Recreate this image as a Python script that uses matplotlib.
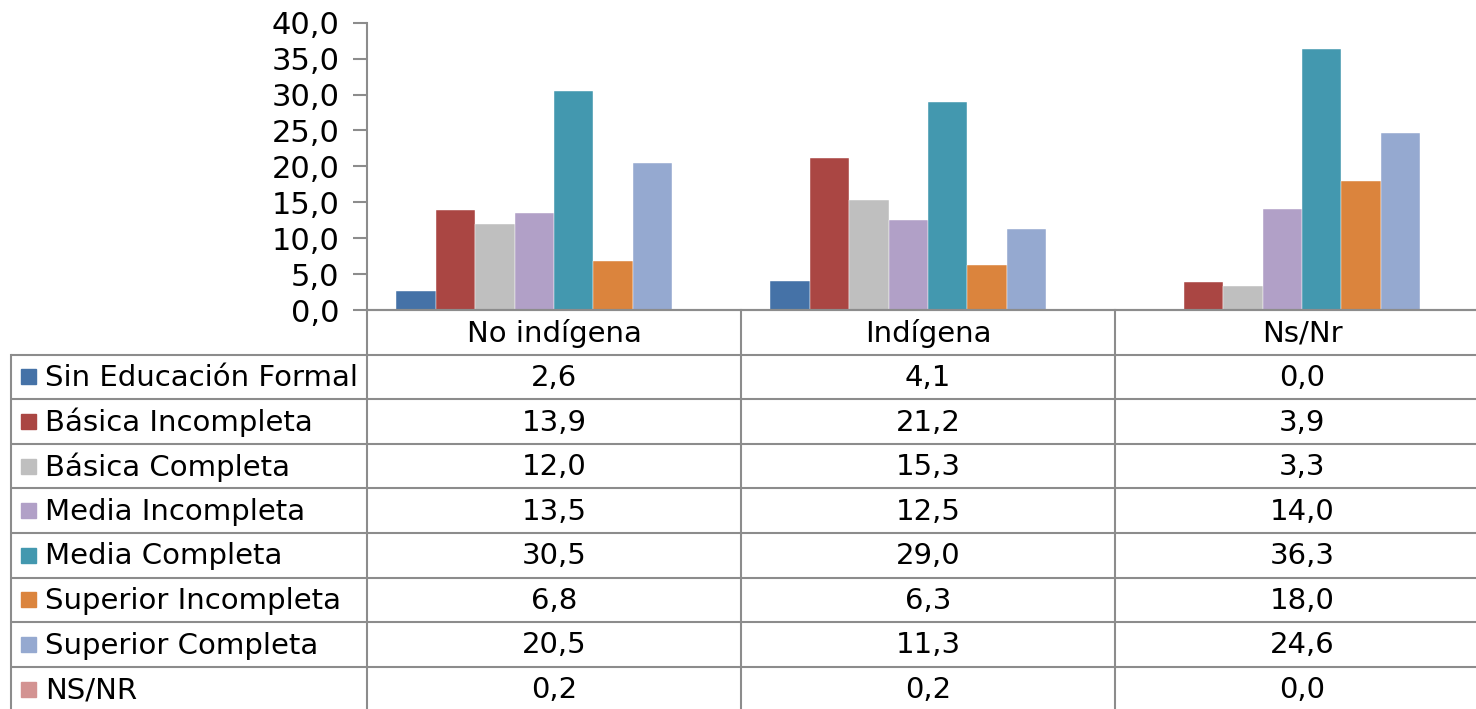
import matplotlib
matplotlib.use("Agg")
import matplotlib.pyplot as plt
import numpy as np

categories = ["No indígena", "Indígena", "Ns/Nr"]
series = [
    "Sin Educación Formal",
    "Básica Incompleta",
    "Básica Completa",
    "Media Incompleta",
    "Media Completa",
    "Superior Incompleta",
    "Superior Completa",
    "NS/NR",
]
sin_educacion = [2.6, 4.1, 0.0]
basica_incompleta = [13.9, 21.2, 3.9]
basica_completa = [12.0, 15.3, 3.3]
media_incompleta = [13.5, 12.5, 14.0]
media_completa = [30.5, 29.0, 36.3]
superior_incompleta = [6.8, 6.3, 18.0]
superior_completa = [20.5, 11.3, 24.6]
ns_nr = [0.2, 0.2, 0.0]
values = [sin_educacion, basica_incompleta, basica_completa, media_incompleta,
          media_completa, superior_incompleta, superior_completa, ns_nr]
colors = ["#4572A7", "#AA4643", "#BFBFBF", "#B1A0C7",
          "#4398AF", "#DB843D", "#95A9D0", "#D39392"]
y_ticks = np.arange(0, 41, 5)

W, H = 1476, 709
FS = 21
GRID = "#8c8c8c"

fig = plt.figure(figsize=(W / 100, H / 100), dpi=100)

# layout in pixels
ax_left, ax_top, ax_bottom = 367, 22.7, 310
col_w = 374
row_h = 44.6
tbl_left = 11

ax = fig.add_axes([ax_left / W, 1 - ax_bottom / H, (W - ax_left) / W, (ax_bottom - ax_top) / H])
n = len(series)
bw = 0.1056
x = np.arange(len(categories)) + 0.5
for j, (name, vals) in enumerate(zip(series, values)):
    ax.bar(x + (j - (n - 1) / 2) * bw, vals, bw, color=colors[j],
           edgecolor="white", linewidth=0.3, zorder=2)

ax.set_xlim(0, (W - ax_left) / col_w)
ax.set_ylim(0, 40)
ax.set_yticks(y_ticks)
ax.set_yticklabels([f"{v:.1f}".replace(".", ",") for v in y_ticks], fontsize=FS + 1)
ax.set_xticks([])
ax.tick_params(axis="y", length=10, width=1.5, color=GRID, pad=10)
for s in ["top", "right"]:
    ax.spines[s].set_visible(False)
for s in ["left", "bottom"]:
    ax.spines[s].set_color(GRID)
    ax.spines[s].set_linewidth(1.5)

# data table drawn below the plot in pixel coordinates
tb = fig.add_axes([0, 0, 1, 1])
tb.set_xlim(0, W)
tb.set_ylim(H, 0)
tb.axis("off")
tb.patch.set_alpha(0)

n_rows = len(series) + 1
y_lines = [ax_bottom + i * row_h for i in range(n_rows + 1)]
col_x = [ax_left + i * col_w for i in range(len(categories) + 1)]
lw = 1.5
# horizontal lines
for i, yl in enumerate(y_lines):
    x0 = ax_left if i == 0 else tbl_left
    tb.plot([x0, W], [yl, yl], color=GRID, lw=lw, solid_capstyle="butt")
# vertical lines
tb.plot([tbl_left, tbl_left], [y_lines[1], H + 5], color=GRID, lw=lw)
for cx in col_x:
    tb.plot([cx, cx], [ax_bottom, H + 5], color=GRID, lw=lw)

# header
for k, cat in enumerate(categories):
    tb.text(col_x[k] + col_w / 2, ax_bottom + row_h / 2 + 1, cat, ha="center", va="center", fontsize=FS)

# rows
for j, (name, vals) in enumerate(zip(series, values)):
    yc = y_lines[j + 1] + row_h / 2 + 1
    tb.add_patch(plt.Rectangle((21, yc - 8.5), 15, 15, color=colors[j]))
    tb.text(45, yc, name, ha="left", va="center", fontsize=FS)
    for k, v in enumerate(vals):
        tb.text(col_x[k] + col_w / 2, yc, f"{v:.1f}".replace(".", ","), ha="center", va="center", fontsize=FS)

fig.savefig("out.png", dpi=100)
